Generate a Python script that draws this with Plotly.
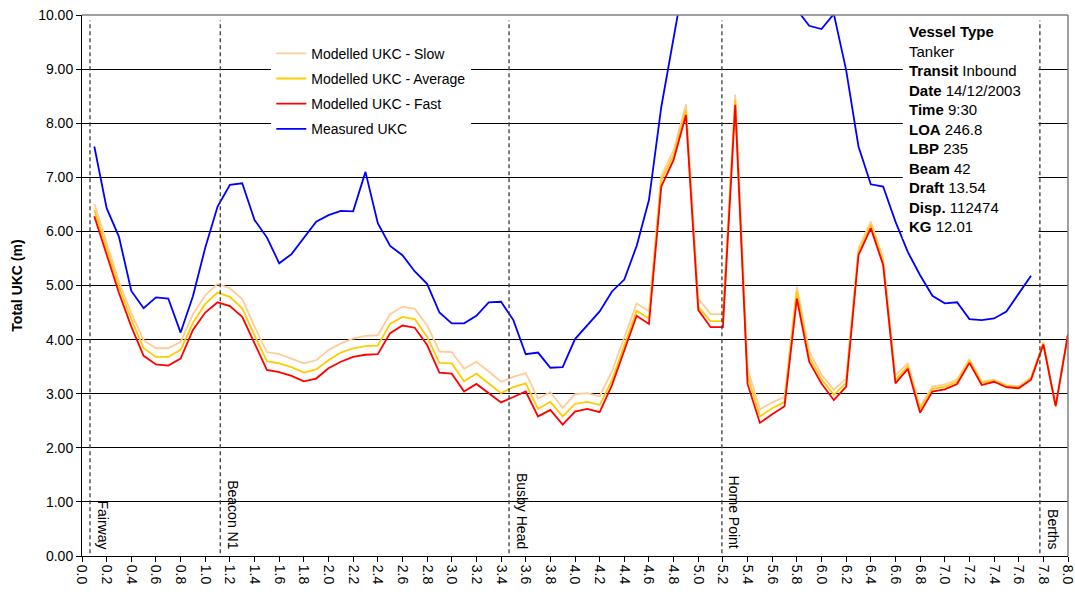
import plotly.graph_objects as go

# Distance along the channel (nautical miles)
dist_model = [0.1, 0.2, 0.3, 0.4, 0.5, 0.6, 0.7, 0.8, 0.9, 1.0,
              1.1, 1.2, 1.3, 1.4, 1.5, 1.6, 1.7, 1.8, 1.9, 2.0,
              2.1, 2.2, 2.3, 2.4, 2.5, 2.6, 2.7, 2.8, 2.9, 3.0,
              3.1, 3.2, 3.3, 3.4, 3.5, 3.6, 3.7, 3.8, 3.9, 4.0,
              4.1, 4.2, 4.3, 4.4, 4.5, 4.6, 4.7, 4.8, 4.9, 5.0,
              5.1, 5.2, 5.3, 5.4, 5.5, 5.6, 5.7, 5.8, 5.9, 6.0,
              6.1, 6.2, 6.3, 6.4, 6.5, 6.6, 6.7, 6.8, 6.9, 7.0,
              7.1, 7.2, 7.3, 7.4, 7.5, 7.6, 7.7, 7.8, 7.9, 8.0]

ukc_slow = [6.51, 5.80, 5.07, 4.49, 3.99, 3.84, 3.84, 3.96, 4.47, 4.82,
            5.03, 4.95, 4.75, 4.24, 3.77, 3.73, 3.65, 3.56, 3.62, 3.81,
            3.93, 4.02, 4.07, 4.08, 4.47, 4.61, 4.57, 4.26, 3.78, 3.77,
            3.46, 3.59, 3.41, 3.22, 3.31, 3.38, 2.91, 3.03, 2.74, 2.99,
            3.01, 2.95, 3.41, 4.02, 4.67, 4.52, 7.02, 7.50, 8.35, 4.76,
            4.47, 4.47, 8.53, 3.47, 2.71, 2.84, 2.94, 4.98, 3.78, 3.35,
            3.07, 3.28, 5.69, 6.18, 5.50, 3.34, 3.56, 2.76, 3.13, 3.17,
            3.26, 3.64, 3.22, 3.26, 3.16, 3.14, 3.30, 3.95, 2.77, 4.10]

ukc_average = [6.40, 5.69, 4.97, 4.38, 3.84, 3.68, 3.68, 3.81, 4.31, 4.66,
               4.87, 4.79, 4.58, 4.08, 3.60, 3.56, 3.49, 3.39, 3.45, 3.62,
               3.76, 3.84, 3.88, 3.89, 4.29, 4.42, 4.38, 4.05, 3.57, 3.56,
               3.23, 3.37, 3.19, 3.01, 3.12, 3.19, 2.72, 2.85, 2.58, 2.81,
               2.85, 2.79, 3.25, 3.90, 4.53, 4.39, 6.95, 7.41, 8.24, 4.61,
               4.34, 4.34, 8.43, 3.33, 2.58, 2.73, 2.85, 4.89, 3.68, 3.27,
               2.98, 3.20, 5.62, 6.12, 5.44, 3.25, 3.51, 2.71, 3.09, 3.13,
               3.22, 3.61, 3.20, 3.24, 3.14, 3.12, 3.28, 3.93, 2.77, 4.10]

ukc_fast = [6.28, 5.58, 4.86, 4.24, 3.70, 3.54, 3.52, 3.65, 4.18, 4.50,
            4.69, 4.62, 4.42, 3.93, 3.44, 3.40, 3.33, 3.23, 3.28, 3.47,
            3.59, 3.68, 3.72, 3.73, 4.12, 4.26, 4.22, 3.90, 3.39, 3.37,
            3.04, 3.18, 3.01, 2.84, 2.94, 3.04, 2.58, 2.70, 2.43, 2.67,
            2.72, 2.66, 3.16, 3.81, 4.44, 4.29, 6.83, 7.32, 8.15, 4.55,
            4.23, 4.23, 8.34, 3.18, 2.46, 2.62, 2.77, 4.76, 3.59, 3.19,
            2.88, 3.13, 5.56, 6.06, 5.38, 3.19, 3.46, 2.65, 3.04, 3.08,
            3.18, 3.57, 3.16, 3.22, 3.12, 3.10, 3.26, 3.91, 2.77, 4.10]

dist_measured = [0.1, 0.2, 0.3, 0.4, 0.5, 0.6, 0.7, 0.8, 0.9, 1.0,
                 1.1, 1.2, 1.3, 1.4, 1.5, 1.6, 1.7, 1.8, 1.9, 2.0,
                 2.1, 2.2, 2.3, 2.4, 2.5, 2.6, 2.7, 2.8, 2.9, 3.0,
                 3.1, 3.2, 3.3, 3.4, 3.5, 3.6, 3.7, 3.8, 3.9, 4.0,
                 4.1, 4.2, 4.3, 4.4, 4.5, 4.6, 4.7, 4.8, 4.9, 5.0,
                 5.1, 5.2, 5.3, 5.4, 5.5, 5.6, 5.7, 5.8, 5.9, 6.0,
                 6.1, 6.2, 6.3, 6.4, 6.5, 6.6, 6.7, 6.8, 6.9, 7.0,
                 7.1, 7.2, 7.3, 7.4, 7.5, 7.6, 7.7]

ukc_measured = [7.57, 6.43, 5.90, 4.90, 4.58, 4.78, 4.76, 4.13, 4.80, 5.70,
                6.46, 6.86, 6.89, 6.21, 5.89, 5.41, 5.58, 5.89, 6.18, 6.30,
                6.38, 6.37, 7.10, 6.15, 5.73, 5.56, 5.26, 5.03, 4.50, 4.30,
                4.30, 4.44, 4.69, 4.70, 4.36, 3.73, 3.76, 3.48, 3.49, 4.01,
                4.26, 4.52, 4.89, 5.11, 5.73, 6.58, 8.30, 9.57, 10.85, 11.5,
                12.0, 12.2, 11.9, 11.4, 11.0, 10.7, 10.4, 10.12, 9.80, 9.74,
                10.02, 8.98, 7.57, 6.87, 6.83, 6.18, 5.62, 5.19, 4.81, 4.67,
                4.69, 4.38, 4.36, 4.39, 4.52, 4.85, 5.18]

# Channel waypoints
waypoint_names = ["Fairway", "Beacon N1", "Busby Head", "Home Point", "Berths"]
waypoint_dist = [0.065, 1.122, 3.465, 5.192, 7.772]

vessel_info = [("Vessel Type", ""), ("", "Tanker"), ("Transit", "Inbound"),
               ("Date", "14/12/2003"), ("Time", "9:30"), ("LOA", "246.8"),
               ("LBP", "235"), ("Beam", "42"), ("Draft", "13.54"),
               ("Disp.", "112474"), ("KG", "12.01")]

x_ticks = [0.0, 0.2, 0.4, 0.6, 0.8, 1.0, 1.2, 1.4, 1.6, 1.8, 2.0,
           2.2, 2.4, 2.6, 2.8, 3.0, 3.2, 3.4, 3.6, 3.8, 4.0,
           4.2, 4.4, 4.6, 4.8, 5.0, 5.2, 5.4, 5.6, 5.8, 6.0,
           6.2, 6.4, 6.6, 6.8, 7.0, 7.2, 7.4, 7.6, 7.8, 8.0]
y_ticks = [0, 1, 2, 3, 4, 5, 6, 7, 8, 9, 10]

FONT = "Arial, Liberation Sans, sans-serif"

fig = go.Figure()
series = [
    ("Modelled UKC - Slow", dist_model, ukc_slow, "#FFCC99"),
    ("Modelled UKC - Average", dist_model, ukc_average, "#FFCC00"),
    ("Modelled UKC - Fast", dist_model, ukc_fast, "#FF0000"),
    ("Measured UKC", dist_measured, ukc_measured, "#0000FF"),
]
for i, (name, xs, ys, col) in enumerate(series):
    fig.add_trace(go.Scatter(
        x=xs, y=ys, name=name, mode="lines",
        line=dict(color=col, width=1.8),
        legendgroup=f"g{i}",
    ))

# Info panel background
fig.add_shape(type="rect", xref="x", yref="y", x0=6.66, x1=7.76, y0=5.86, y1=9.97,
              fillcolor="white", line=dict(width=0), layer="above")

# Waypoint markers
for name, d in zip(waypoint_names, waypoint_dist):
    fig.add_shape(type="line", xref="x", yref="y", x0=d, x1=d, y0=0.05, y1=9.9,
                  line=dict(color="#3a3a3a", width=1.3, dash="4px,3px"), layer="above")
    fig.add_annotation(x=d, y=0, xref="x", yref="y", text=name, textangle=90,
                       showarrow=False, xanchor="left", yanchor="bottom",
                       xshift=3, yshift=5,
                       font=dict(family=FONT, size=14, color="#000000"))

# Top / right plot border
fig.add_shape(type="line", xref="paper", yref="paper", x0=0, x1=1, y0=1, y1=1,
              line=dict(color="#808080", width=1.5), layer="above")
fig.add_shape(type="line", xref="paper", yref="paper", x0=1, x1=1, y0=0, y1=1,
              line=dict(color="#808080", width=1.5), layer="above")

info_lines = []
for label, value in vessel_info:
    parts = []
    if label:
        parts.append(f"<b>{label}</b>")
    if value:
        parts.append(value)
    info_lines.append(" ".join(parts))
fig.add_annotation(x=6.69, y=9.88, xref="x", yref="y", text="<br>".join(info_lines),
                   showarrow=False, xanchor="left", yanchor="top", align="left",
                   font=dict(family=FONT, size=15, color="#000000"))

fig.update_layout(
    width=1075, height=595,
    margin=dict(l=82, r=7, t=15, b=39, autoexpand=False),
    paper_bgcolor="white", plot_bgcolor="white",
    font=dict(family=FONT, size=14, color="#000000"),
    showlegend=True,
    legend=dict(x=0.192, y=0.958, xanchor="left", yanchor="top",
                bgcolor="white", borderwidth=0, tracegroupgap=4,
                font=dict(family=FONT, size=14, color="#000000")),
    xaxis=dict(range=[0, 8], tickmode="array", tickvals=x_ticks,
               ticktext=[f"{v:.1f}" for v in x_ticks], tickangle=90,
               ticks="outside", ticklen=5, tickcolor="#000000",
               ticklabeloverflow="allow", automargin=False,
               showline=True, linecolor="#000000", linewidth=1,
               showgrid=False, zeroline=False,
               tickfont=dict(family=FONT, size=14)),
    yaxis=dict(range=[0, 10], tickmode="array", tickvals=y_ticks,
               ticktext=[f"{v:.2f}" for v in y_ticks],
               ticks="outside", ticklen=5, tickcolor="#000000",
               showline=True, linecolor="#000000", linewidth=1,
               showgrid=True, gridcolor="#000000", gridwidth=1,
               zeroline=False, automargin=False,
               title=dict(text="<b>Total UKC (m)</b>", standoff=12,
                          font=dict(family=FONT, size=14)),
               tickfont=dict(family=FONT, size=14)),
)

fig.write_html("out.html")
